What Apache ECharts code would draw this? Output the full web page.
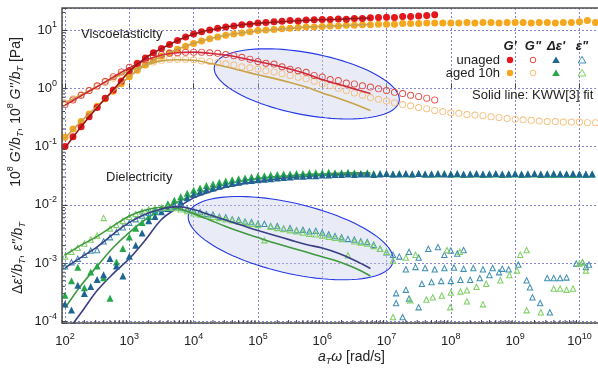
<!DOCTYPE html>
<html>
<head>
<meta charset="utf-8">
<script src="https://cdn.jsdelivr.net/npm/echarts@6/dist/echarts.min.js"></script>
<style>
  html, body { margin: 0; padding: 0; background: #fff; }
  #chart { width: 598px; height: 372px; }
</style>
</head>
<body>
<div id="chart"></div>
<script>
// ---- angular frequency grids a_T·ω [rad/s] ----
const omegaRheo = [
  1e2, 1.33e2, 1.78e2, 2.37e2, 3.16e2, 4.22e2, 5.62e2, 7.5e2,
  1e3, 1.33e3, 1.78e3, 2.37e3, 3.16e3, 4.22e3, 5.62e3, 7.5e3,
  1e4, 1.33e4, 1.78e4, 2.37e4, 3.16e4, 4.22e4, 5.62e4, 7.5e4,
  1e5, 1.33e5, 1.78e5, 2.37e5, 3.16e5, 4.22e5, 5.62e5, 7.5e5,
  1e6, 1.33e6, 1.78e6, 2.37e6, 3.16e6, 4.22e6, 5.62e6, 7.5e6,
  1e7, 1.33e7, 1.78e7, 2.37e7, 3.16e7, 4.22e7, 5.62e7, 7.5e7,
  1e8, 1.33e8, 1.78e8, 2.37e8, 3.16e8, 4.22e8, 5.62e8, 7.5e8,
  1e9, 1.33e9, 1.78e9, 2.37e9, 3.16e9, 4.22e9, 5.62e9, 7.5e9,
  1e10, 1.33e10, 1.78e10
];
const omegaDiel = [
  1e2, 1.26e2, 1.58e2, 2e2, 2.51e2, 3.16e2, 3.98e2, 5.01e2, 6.31e2, 7.94e2,
  1e3, 1.26e3, 1.58e3, 2e3, 2.51e3, 3.16e3, 3.98e3, 5.01e3, 6.31e3, 7.94e3,
  1e4, 1.26e4, 1.58e4, 2e4, 2.51e4, 3.16e4, 3.98e4, 5.01e4, 6.31e4, 7.94e4,
  1e5, 1.26e5, 1.58e5, 2e5, 2.51e5, 3.16e5, 3.98e5, 5.01e5, 6.31e5, 7.94e5,
  1e6, 1.26e6, 1.58e6, 2e6, 2.51e6, 3.16e6, 3.98e6, 5.01e6, 6.31e6, 7.94e6,
  1e7, 1.26e7, 1.58e7, 2e7, 2.51e7, 3.16e7, 3.98e7, 5.01e7, 6.31e7, 7.94e7,
  1e8, 1.26e8, 1.58e8, 2e8, 2.51e8, 3.16e8, 3.98e8, 5.01e8, 6.31e8, 7.94e8,
  1e9, 1.26e9, 1.58e9, 2e9, 2.51e9, 3.16e9, 3.98e9, 5.01e9, 6.31e9, 7.94e9,
  1e10, 1.26e10, 1.58e10
];
const omegaFit = [
  1e2, 1.78e2, 3.16e2, 5.62e2, 1e3, 1.78e3, 3.16e3, 5.62e3, 1e4, 1.78e4,
  3.16e4, 5.62e4, 1e5, 1.78e5, 3.16e5, 5.62e5, 1e6, 1.78e6, 3.16e6, 5.62e6
];

// ---- shear moduli, 10^8 G/b_T [Pa] ----
const gStorageUnaged = [
  0.100, 0.148, 0.219, 0.324, 0.468, 0.676, 0.933, 1.32,
  2.00, 2.63, 3.31, 4.07, 4.79, 5.62, 6.61, 7.59,
  8.51, 9.33, 10.0, 10.7, 11.2, 11.7, 12.3, 12.6,
  13.2, 13.5, 13.8, 14.1, 14.5, 14.3, 14.8, 15.0,
  15.1, 15.1, 15.5, 15.3, 15.8, 15.8, 16.2, 16.4,
  16.6, 16.4, 17.0, 17.0, 17.4, 17.8, 18.2
];
const gStorageAged = [
  0.145, 0.200, 0.269, 0.363, 0.490, 0.661, 0.891, 1.20,
  1.58, 2.04, 2.51, 3.02, 3.55, 4.07, 4.68, 5.25,
  5.89, 6.46, 7.08, 7.59, 8.13, 8.51, 8.91, 9.33,
  9.77, 10.0, 10.2, 10.5, 10.7, 11.0, 11.2, 11.2,
  11.5, 11.7, 11.7, 12.0, 12.0, 12.3, 12.3, 12.6,
  12.6, 12.6, 12.9, 12.9, 12.9, 13.2, 13.2, 13.2,
  13.2, 13.2, 13.5, 13.2, 13.5, 13.5, 13.2, 13.5,
  13.5, 13.5, 13.2, 13.5, 13.5, 13.2, 13.5, 13.5,
  13.8, 14.5, 13.5
];
const gLossUnaged = [
  0.525, 0.631, 0.759, 0.912, 1.10, 1.32, 1.58, 1.91,
  2.29, 2.69, 3.09, 3.47, 3.80, 3.98, 4.07, 4.17,
  4.17, 4.17, 4.07, 3.98, 3.80, 3.63, 3.39, 3.16,
  2.88, 2.69, 2.60, 2.34, 2.12, 2.00, 1.88, 1.66,
  1.56, 1.41, 1.36, 1.23, 1.19, 1.10, 1.05, 0.977,
  0.912, 0.851, 0.813, 0.759, 0.724, 0.676, 0.631
];
const gLossAged = [
  0.562, 0.661, 0.776, 0.912, 1.07, 1.26, 1.48, 1.74,
  2.00, 2.29, 2.57, 2.82, 3.02, 3.16, 3.16, 3.16,
  3.09, 2.95, 2.88, 2.75, 2.63, 2.51, 2.34, 2.24,
  2.14, 2.00, 1.91, 1.78, 1.66, 1.55, 1.45, 1.32,
  1.20, 1.10, 1.00, 0.912, 0.832, 0.759, 0.692, 0.646,
  0.603, 0.562, 0.525, 0.501, 0.468, 0.447, 0.417, 0.398,
  0.380, 0.372, 0.355, 0.347, 0.339, 0.324, 0.316, 0.302,
  0.295, 0.288, 0.282, 0.275, 0.269, 0.269, 0.263, 0.263,
  0.263, 0.257, 0.257
];

// ---- KWW[3] fits of the shear moduli ----
const fitGStorageUnaged = [0.095, 0.219, 0.468, 0.933, 1.95, 3.31, 4.79, 6.61, 8.51, 10.0, 11.2, 12.3, 13.0, 13.6, 14.1, 14.6, 15.0, 15.3, 15.7, 16.0];
const fitGStorageAged   = [0.14, 0.27, 0.49, 0.89, 1.58, 2.51, 3.55, 4.68, 5.89, 7.08, 8.13, 8.91, 9.6, 10.2, 10.7, 11.2, 11.5, 11.8, 12.1, 12.4];
const fitGLossUnaged    = [0.513, 0.741, 1.07, 1.55, 2.24, 3.02, 3.72, 4.07, 4.17, 3.98, 3.72, 3.31, 2.88, 2.51, 2.14, 1.78, 1.41, 1.17, 0.977, 0.813];
const fitGLossAged      = [0.562, 0.776, 1.07, 1.48, 2.00, 2.51, 2.95, 3.09, 3.02, 2.69, 2.34, 2.00, 1.70, 1.48, 1.26, 1.05, 0.832, 0.676, 0.537, 0.417];

// ---- dielectric response, Δε'/b_T and ε''/b_T ----
const epsStorageUnaged = [
  2.00e-4, 1.58e-4, 4.17e-4, 3.02e-4, 3.98e-4, 5.25e-4, 6.31e-4, 1.20e-3, 8.91e-4, 6.03e-4,
  1.32e-3, 2.04e-3, 3.31e-3, 5.37e-3, 6.31e-3, 7.59e-3, 8.71e-3, 1.00e-2, 1.12e-2, 1.32e-2,
  1.51e-2, 1.66e-2, 1.82e-2, 1.95e-2, 2.09e-2, 2.24e-2, 2.34e-2, 2.45e-2, 2.57e-2, 2.63e-2,
  2.69e-2, 2.75e-2, 2.82e-2, 2.88e-2, 2.95e-2, 3.02e-2, 3.09e-2, 3.09e-2, 3.16e-2, 3.16e-2,
  3.24e-2, 3.24e-2, 3.31e-2, 3.31e-2, 3.39e-2, 3.31e-2, 3.39e-2, 3.39e-2, 3.31e-2, 3.39e-2,
  3.47e-2, 3.39e-2, 3.39e-2, 3.47e-2, 3.39e-2, 3.47e-2, 3.39e-2, 3.39e-2, 3.47e-2, 3.39e-2,
  3.39e-2, 3.47e-2, 3.39e-2, 3.39e-2, 3.47e-2, 3.39e-2, 3.39e-2, 3.47e-2, 3.39e-2, 3.39e-2,
  3.47e-2, 3.39e-2, 3.39e-2, 3.47e-2, 3.39e-2, 3.39e-2, 3.47e-2, 3.39e-2, 3.39e-2, 3.47e-2,
  3.39e-2, 3.39e-2, 3.39e-2
];
const epsStorageAged = [
  2.82e-4, 5.01e-4, 8.51e-4, 3.80e-4, 7.08e-4, 8.91e-4, 5.62e-4, 2.51e-4, 1.05e-3, 1.78e-3,
  2.82e-3, 3.98e-3, 5.01e-3, 6.31e-3, 7.59e-3, 8.91e-3, 1.05e-2, 1.20e-2, 1.38e-2, 1.58e-2,
  1.78e-2, 1.95e-2, 2.14e-2, 2.29e-2, 2.45e-2, 2.57e-2, 2.69e-2, 2.82e-2, 2.88e-2, 3.02e-2,
  3.09e-2, 3.16e-2, 3.24e-2, 3.31e-2, 3.39e-2, 3.39e-2, 3.47e-2, 3.47e-2, 3.55e-2, 3.55e-2,
  3.55e-2, 3.63e-2, 3.55e-2, 3.55e-2, 3.63e-2, 3.55e-2, 3.47e-2, 3.55e-2, 3.47e-2, 3.47e-2,
  3.47e-2, 3.39e-2, 3.47e-2, 3.39e-2, 3.39e-2, 3.47e-2, 3.39e-2, 3.39e-2, 3.39e-2, 3.47e-2,
  3.39e-2, 3.39e-2, 3.31e-2, 3.39e-2, 3.39e-2, 3.31e-2, 3.39e-2, 3.39e-2, 3.31e-2, 3.39e-2,
  3.39e-2, 3.31e-2, 3.39e-2, 3.39e-2, 3.31e-2, 3.39e-2, 3.31e-2, 3.39e-2, 3.39e-2, 3.31e-2,
  3.39e-2, 3.31e-2, 3.39e-2
];
const epsLossUnaged = [
  8.91e-4, 1.05e-3, 1.20e-3, 1.41e-3, 1.66e-3, 1.70e-3, 2.40e-3, 2.82e-3, 3.47e-3, 4.17e-3,
  5.01e-3, 5.75e-3, 6.61e-3, 7.41e-3, 8.13e-3, 8.71e-3, 9.12e-3, 9.33e-3, 9.12e-3, 8.51e-3,
  7.94e-3, 7.59e-3, 7.08e-3, 6.92e-3, 6.31e-3, 6.17e-3, 5.75e-3, 5.62e-3, 5.25e-3, 5.13e-3,
  4.79e-3, 4.79e-3, 4.37e-3, 4.37e-3, 3.98e-3, 4.07e-3, 3.72e-3, 3.80e-3, 3.55e-3, 3.63e-3,
  3.39e-3, 3.16e-3, 2.95e-3, 2.82e-3, 2.63e-3, 2.57e-3, 2.40e-3, 2.34e-3, 2.09e-3, 1.78e-3,
  1.55e-3
];
const epsLossAged = [
  1.32e-3, 1.58e-3, 1.86e-3, 2.19e-3, 2.57e-3, 3.02e-3, 6.03e-3, 3.98e-3, 4.57e-3, 5.37e-3,
  6.31e-3, 7.08e-3, 7.76e-3, 8.51e-3, 8.91e-3, 9.12e-3, 9.12e-3, 8.91e-3, 8.51e-3, 7.94e-3,
  7.24e-3, 6.92e-3, 6.61e-3, 6.31e-3, 6.03e-3, 5.75e-3, 5.50e-3, 5.25e-3, 5.01e-3, 4.79e-3,
  4.57e-3, 2.51e-3, 4.27e-3, 4.07e-3, 3.89e-3, 3.72e-3, 3.55e-3, 3.39e-3, 3.24e-3, 3.16e-3,
  3.02e-3, 2.88e-3, 2.75e-3, 2.63e-3, 1.38e-3, 2.40e-3, 2.29e-3, 2.19e-3, 2.00e-3, 1.78e-3,
  1.58e-3
];
// noisy high-frequency loss points [ω, ε''/b_T]
const epsLossUnagedHF = [
  [1.26e7, 1.41e-3], [1.58e7, 1.32e-3], [2.24e7, 1.58e-3], [3.16e7, 1.26e-3], [4.47e7, 1.78e-3],
  [6.31e7, 1.91e-3], [7.94e7, 1.41e-3], [1e8, 1.66e-3], [1.26e8, 1.48e-3], [1.58e8, 1.70e-3],
  [2.0e7, 7.94e-4], [2.82e7, 8.71e-4], [3.98e7, 8.32e-4], [5.62e7, 7.94e-4], [7.94e7, 8.32e-4],
  [1.12e8, 8.51e-4], [1.58e8, 8.13e-4], [2.24e8, 8.32e-4], [3.16e8, 7.94e-4], [4.47e8, 8.32e-4],
  [6.31e8, 8.13e-4],
  [3.55e7, 4.47e-4], [5.01e7, 4.79e-4], [7.08e7, 5.01e-4], [1e8, 5.01e-4], [1.41e8, 5.25e-4],
  [2.0e8, 5.25e-4], [2.82e8, 5.62e-4], [3.98e8, 6.31e-4], [5.62e8, 7.08e-4], [7.94e8, 7.94e-4],
  [1.12e9, 9.55e-4],
  [1.41e7, 3.09e-4], [1.41e7, 2.09e-4], [1.78e7, 1.20e-4], [2.24e7, 2.51e-4], [3.16e7, 1.78e-4],
  [2.0e7, 3.55e-4],
  [1.51e9, 5.13e-4], [1.70e9, 3.89e-4], [1.86e9, 2.63e-4], [2.45e9, 2.09e-4], [3.47e9, 1.45e-4],
  [3.16e9, 5.62e-4], [3.98e9, 5.62e-4], [5.01e9, 5.62e-4], [6.31e9, 5.75e-4], [8.91e9, 1.0e-3],
  [1.12e10, 1.05e-3], [1.41e10, 9.55e-4], [1.26e10, 8.71e-4]
];
const epsLossAgedHF = [
  [1.26e7, 1.12e-3], [2.0e7, 1.26e-3], [2.82e7, 1.41e-3], [8.71e7, 1.70e-3], [1.38e8, 1.58e-3],
  [1.51e9, 1.70e-3], [1.2e9, 1.41e-3],
  [4.17e7, 2.40e-4], [5.25e7, 2.63e-4], [7.24e7, 2.82e-4], [1e8, 3.16e-4], [1.41e8, 3.31e-4],
  [1.78e8, 3.47e-4], [2.51e8, 3.98e-4], [3.55e8, 4.47e-4], [5.89e8, 5.13e-4], [8.13e8, 6.31e-4],
  [1.07e9, 7.59e-4],
  [1.26e7, 1.20e-4], [2.34e7, 2.34e-4], [9.77e7, 1.78e-4], [1.78e8, 2.24e-4], [3.16e8, 2.00e-4],
  [1.51e9, 1.58e-4], [2.51e9, 1.45e-4], [3.98e9, 3.72e-4], [5.01e9, 3.72e-4], [6.31e9, 3.55e-4],
  [7.94e9, 3.72e-4], [1e10, 1.0e-3], [1.26e10, 7.59e-4], [1.12e10, 1.05e-3]
];

// ---- KWW[3] fits of the dielectric response ----
const fitEpsStorageUnaged = [6.03e-5, 1.41e-4, 3.39e-4, 6.61e-4, 1.20e-3, 2.51e-3, 5.62e-3, 8.91e-3, 1.32e-2, 1.66e-2, 2.00e-2, 2.29e-2, 2.51e-2, 2.75e-2, 2.95e-2, 3.09e-2, 3.24e-2, 3.31e-2, 3.39e-2, 3.39e-2];
const fitEpsStorageAged   = [1.70e-4, 4.17e-4, 8.91e-4, 1.86e-3, 3.39e-3, 5.62e-3, 8.32e-3, 1.12e-2, 1.48e-2, 1.86e-2, 2.24e-2, 2.57e-2, 2.82e-2, 3.02e-2, 3.16e-2, 3.31e-2, 3.39e-2, 3.47e-2, 3.55e-2, 3.55e-2];
const fitEpsLossUnaged    = [8.32e-4, 1.26e-3, 1.91e-3, 3.16e-3, 5.01e-3, 6.92e-3, 8.51e-3, 9.33e-3, 8.32e-3, 6.76e-3, 5.50e-3, 4.47e-3, 3.63e-3, 3.02e-3, 2.51e-3, 2.09e-3, 1.82e-3, 1.48e-3, 1.12e-3, 8.13e-4];
const fitEpsLossAged      = [1.38e-3, 2.04e-3, 2.88e-3, 4.37e-3, 6.46e-3, 8.13e-3, 9.12e-3, 8.71e-3, 7.08e-3, 5.50e-3, 4.27e-3, 3.39e-3, 2.75e-3, 2.24e-3, 1.86e-3, 1.55e-3, 1.29e-3, 1.07e-3, 8.32e-4, 6.03e-4];

// highlighted regions (centre in data units)
const highlightShear = { omega: 5.75e5, value: 1.19 };
const highlightDiel  = { omega: 3.24e5, value: 2.69e-3 };

// ---------------------------------------------------------------
const FONT = '"Liberation Sans", Arial, Helvetica, sans-serif';
const L = Math.log10;
// the axes run in decades (log10 of the data)
const X_MIN = 1.953, X_MAX = 10.32, Y_MIN = -4.026, Y_MAX = 1.377;

const zip = (w, v) => v.map((y, i) => [L(w[i]), L(y)]);
const logPairs = arr => arr.map(([w, y]) => [L(w), L(y)]);

const C = {
  gpU: '#e3171c', gpA: '#f5a71e', gppU: '#e04a40', gppA: '#f6bd78',
  dsU: '#1f6592', dsA: '#24a848', elU: '#3f8fb2', elA: '#7fd064',
  fitGpU: '#9a1616', fitGppU: '#d0283a', fitA: '#c9a24a',
  fitDU: '#3a3f86', fitDA: '#3f9a3f'
};

const RING = 'path://M0,-10A10,10,0,1,1,0,10A10,10,0,1,1,0,-10ZM0,-7.4A7.4,7.4,0,1,0,0,7.4A7.4,7.4,0,1,0,0,-7.4Z';
const OPEN_TRI = 'path://M0,-10L10,8L-10,8ZM0,-4.2L-5.2,5.2L5.2,5.2Z';

function scatter(name, data, symbol, size, color) {
  return { name, type: 'scatter', data, symbol, symbolSize: size, silent: true,
           itemStyle: { color, opacity: 1 }, z: 2 };
}
function fit(name, data, color, width, z) {
  return { name, type: 'line', data, showSymbol: false, smooth: 0.35, silent: true,
           lineStyle: { color, width }, z: z };
}

const decadeLabel = v => {
  if (Math.abs(v - Math.round(v)) > 1e-6) return '';
  const e = Math.round(v);
  return '{b|10}{s|' + (e === 0 ? 0 : e) + '}';
};
const labelRich = {
  b: { fontSize: 13, fontFamily: FONT, color: '#222' },
  s: { fontSize: 9, fontFamily: FONT, color: '#222', padding: [0, 0, 10, 0] }
};

// minor tick positions (log 2..9 within each decade)
const minorX = [], minorY = [];
for (let n = 1; n <= 10; n++) for (let k = 2; k <= 9; k++) {
  const v = n + L(k); if (v > X_MIN && v < X_MAX) minorX.push([v, Y_MIN]);
}
for (let n = -5; n <= 1; n++) for (let k = 2; k <= 9; k++) {
  const v = n + L(k); if (v > Y_MIN && v < Y_MAX) minorY.push([X_MIN, v]);
}

const chart = echarts.init(document.getElementById('chart'), null, { renderer: 'canvas' });

chart.setOption({
  animation: false,
  backgroundColor: '#fff',
  textStyle: { fontFamily: FONT },
  grid: { left: 62, right: -2, top: 8, bottom: 49, containLabel: false, outerBoundsMode: 'none' },
  xAxis: {
    type: 'value', min: X_MIN, max: X_MAX, splitNumber: 8, minInterval: 1, maxInterval: 1,
    axisLine: { show: false },
    axisTick: { show: true, inside: true, length: 5, lineStyle: { color: '#444' } },
    axisLabel: { margin: 9, formatter: decadeLabel, rich: labelRich, showMinLabel: true, showMaxLabel: true },
    splitLine: { show: true, lineStyle: { color: '#8585d4', type: [2, 2], width: 1 } }
  },
  yAxis: {
    type: 'value', min: Y_MIN, max: Y_MAX, splitNumber: 5, minInterval: 1, maxInterval: 1,
    axisLine: { show: false },
    axisTick: { show: true, inside: true, length: 5, lineStyle: { color: '#444' } },
    axisLabel: { margin: 5, formatter: decadeLabel, rich: labelRich },
    splitLine: { show: true, lineStyle: { color: '#8585d4', type: [2, 2], width: 1 } }
  },
  series: [
    // dielectric storage fits sit beneath the dense triangles
    fit('Δε\' unaged fit', zip(omegaFit, fitEpsStorageUnaged), C.fitDU, 1.6, 1),
    fit('Δε\' aged fit', zip(omegaFit, fitEpsStorageAged), C.fitDA, 1.6, 1),

    scatter('Δε\' aged 10h', zip(omegaDiel, epsStorageAged), 'triangle', 7, C.dsA),
    scatter('Δε\' unaged', zip(omegaDiel, epsStorageUnaged), 'triangle', 7, C.dsU),
    scatter('ε\'\' unaged', zip(omegaDiel, epsLossUnaged), OPEN_TRI, 7, C.elU),
    scatter('ε\'\' unaged HF', logPairs(epsLossUnagedHF), OPEN_TRI, 7, C.elU),
    scatter('ε\'\' aged 10h', zip(omegaDiel, epsLossAged), OPEN_TRI, 7, C.elA),
    scatter('ε\'\' aged 10h HF', logPairs(epsLossAgedHF), OPEN_TRI, 7, C.elA),

    scatter('G\'\' aged 10h', zip(omegaRheo, gLossAged), RING, 7, C.gppA),
    scatter('G\' aged 10h', zip(omegaRheo, gStorageAged), 'circle', 7, C.gpA),
    scatter('G\'\' unaged', zip(omegaRheo, gLossUnaged), RING, 7, C.gppU),
    scatter('G\' unaged', zip(omegaRheo, gStorageUnaged), 'circle', 7, C.gpU),

    fit('ε\'\' aged fit', zip(omegaFit, fitEpsLossAged), C.fitDA, 1.6, 3),
    fit('ε\'\' unaged fit', zip(omegaFit, fitEpsLossUnaged), C.fitDU, 1.6, 3),
    fit('G\' aged fit', zip(omegaFit, fitGStorageAged), C.fitA, 1.6, 3),
    fit('G\'\' aged fit', zip(omegaFit, fitGLossAged), C.fitA, 1.6, 3),
    fit('G\'\' unaged fit', zip(omegaFit, fitGLossUnaged), C.fitGppU, 1.6, 3),
    fit('G\' unaged fit', zip(omegaFit, fitGStorageUnaged), C.fitGpU, 1.6, 3),

    // logarithmic minor ticks
    { type: 'custom', silent: true, z: 8, data: minorX,
      renderItem: (p, api) => {
        const pt = api.coord([api.value(0), api.value(1)]);
        return { type: 'line', shape: { x1: pt[0], y1: pt[1], x2: pt[0], y2: pt[1] - 3 },
                 style: { stroke: '#444', lineWidth: 1 } };
      } },
    { type: 'custom', silent: true, z: 8, data: minorY,
      renderItem: (p, api) => {
        const pt = api.coord([api.value(0), api.value(1)]);
        return { type: 'line', shape: { x1: pt[0], y1: pt[1], x2: pt[0] + 3, y2: pt[1] },
                 style: { stroke: '#444', lineWidth: 1 } };
      } }
  ]
});

// ---- annotations, frame, legend and axis titles ----
const px = (lx, ly) => chart.convertToPixel({ gridIndex: 0 }, [lx, ly]);
const cShear = px(L(highlightShear.omega), L(highlightShear.value));
const cDiel = px(L(highlightDiel.omega), L(highlightDiel.value));
const tl = px(X_MIN, Y_MAX), br = px(X_MAX, Y_MIN);

const richBase = {
  n: { fontSize: 14, fontFamily: FONT, fill: '#222' },
  i: { fontSize: 14, fontFamily: FONT, fontStyle: 'italic', fill: '#222' },
  s: { fontSize: 9, fontFamily: FONT, fill: '#222', padding: [0, 0, 10, 0] },
  sb: { fontSize: 9, fontFamily: FONT, fontStyle: 'italic', fill: '#222', padding: [8, 0, 0, 0] }
};
function text(x, y, str, opts) {
  return Object.assign({ type: 'text', x, y, z: 20, silent: true,
    style: Object.assign({ text: str, fill: '#222', font: '13px ' + FONT,
      align: 'left', verticalAlign: 'middle', textAlign: 'left', textVerticalAlign: 'middle' },
      opts && opts.style) }, opts && opts.el);
}
// tilted ellipse outline as a closed polygon; a positive angle lowers the right-hand end
function ellipse(c, a, b, deg) {
  const th = deg * Math.PI / 180, pts = [];
  for (let i = 0; i < 96; i++) {
    const t = (i / 96) * 2 * Math.PI;
    pts.push([c[0] + a * Math.cos(th) * Math.cos(t) - b * Math.sin(th) * Math.sin(t),
              c[1] + a * Math.sin(th) * Math.cos(t) + b * Math.cos(th) * Math.sin(t)]);
  }
  return { type: 'polygon', z: 1, silent: true, shape: { points: pts },
    style: { fill: 'rgba(196,206,232,0.38)', stroke: '#2438e6', lineWidth: 1.1 } };
}

const legendCols = [510, 533, 556, 582];
const rowY = [60, 73];
const legendMarks = [];
function mark(kind, x, y, color) {
  if (kind === 'dot') return { type: 'circle', z: 20, shape: { cx: x, cy: y, r: 3.2 }, style: { fill: color } };
  if (kind === 'ring') return { type: 'circle', z: 20, shape: { cx: x, cy: y, r: 2.8 }, style: { fill: 'none', stroke: color, lineWidth: 1 } };
  const pts = [[x, y - 3.6], [x + 3.8, y + 3], [x - 3.8, y + 3]];
  if (kind === 'tri') return { type: 'polygon', z: 20, shape: { points: pts }, style: { fill: color } };
  return { type: 'polygon', z: 20, shape: { points: pts }, style: { fill: 'none', stroke: color, lineWidth: 1 } };
}
legendMarks.push(
  mark('dot', legendCols[0], rowY[0], C.gpU), mark('ring', legendCols[1], rowY[0], C.gppU),
  mark('tri', legendCols[2], rowY[0], C.dsU), mark('otri', legendCols[3], rowY[0], C.elU),
  mark('dot', legendCols[0], rowY[1], C.gpA), mark('ring', legendCols[1], rowY[1], C.gppA),
  mark('tri', legendCols[2], rowY[1], C.dsA), mark('otri', legendCols[3], rowY[1], C.elA)
);
const headStyle = { font: 'italic bold 13px ' + FONT, align: 'center', textAlign: 'center' };

chart.setOption({
  graphic: [
    ellipse(cShear, 94, 31, 10.7),
    ellipse(cDiel, 105, 35, 13.2),
    { type: 'rect', z: 15, silent: true,
      shape: { x: tl[0], y: tl[1], width: br[0] - tl[0], height: br[1] - tl[1] },
      style: { fill: 'none', stroke: '#505050', lineWidth: 1.5 } },

    text(81, 34, 'Viscoelasticity'),
    text(106, 177, 'Dielectricity'),

    text(legendCols[0], 46, "G'", { style: headStyle }),
    text(legendCols[1], 46, 'G"', { style: headStyle }),
    text(legendCols[2], 46, "Δε'", { style: headStyle }),
    text(legendCols[3], 46, 'ε"', { style: headStyle }),
    text(500, rowY[0], 'unaged', { style: { align: 'right', textAlign: 'right' } }),
    text(500, rowY[1], 'aged 10h', { style: { align: 'right', textAlign: 'right' } }),
    text(472, 95, 'Solid line: KWW[3] fit'),
    ...legendMarks,

    // axis titles
    text(318, 357, '{i|a}{sb|T}{i|ω}{n| [rad/s]}', { style: { rich: richBase } }),
    text(16, 112, "{n|10}{s|8}{n| }{i|G'/b}{sb|T}{n|, 10}{s|8}{n| }{i|G''/b}{sb|T}{n| [Pa]}",
      { style: { rich: richBase, align: 'center', textAlign: 'center' }, el: { rotation: Math.PI / 2 } }),
    text(18, 258, "{n|Δ}{i|ε'/b}{sb|T}{n|, }{i|ε''/b}{sb|T}",
      { style: { rich: richBase, align: 'center', textAlign: 'center' }, el: { rotation: Math.PI / 2 } })
  ]
});
</script>
</body>
</html>
